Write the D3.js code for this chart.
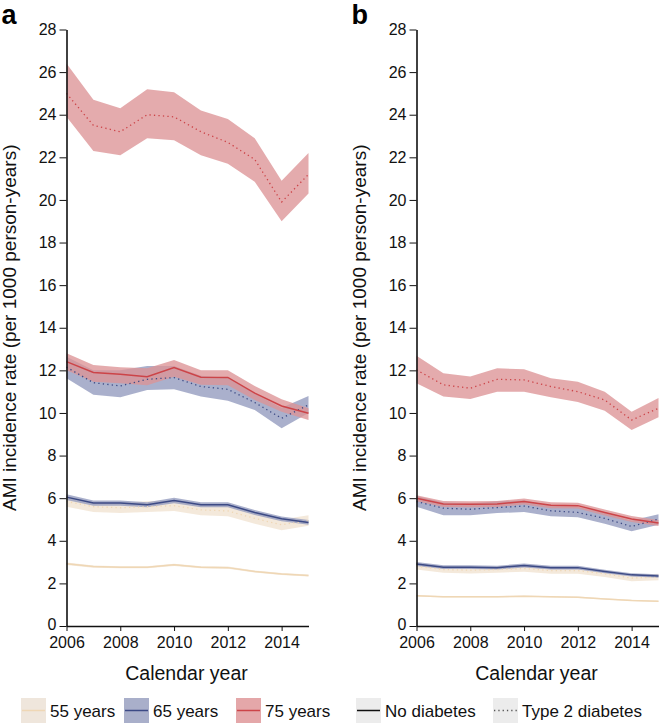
<!DOCTYPE html>
<html><head><meta charset="utf-8">
<script src="https://cdn.jsdelivr.net/npm/d3@7"></script>
<style>
body{margin:0;background:#fff;}
text{font-family:"Liberation Sans",Arial,Helvetica,sans-serif;}
</style></head>
<body><svg id="chart" width="661" height="724"></svg>
<script>
const years = [2006,2007,2008,2009,2010,2011,2012,2013,2014,2015];
const yTicks = [0,2,4,6,8,10,12,14,16,18,20,22,24,26,28];
const xTicks = [2006,2008,2010,2012,2014];
const ageGroups = ["55 years","65 years","75 years"];
const diabetesLabels = ["No diabetes","Type 2 diabetes"];

// Panel a
const a55_nd    = [2.92,2.79,2.76,2.76,2.87,2.76,2.74,2.56,2.44,2.37];
const a55_nd_lo = [2.86,2.74,2.71,2.71,2.82,2.71,2.69,2.51,2.39,2.32];
const a55_nd_hi = [2.98,2.84,2.81,2.81,2.92,2.81,2.79,2.61,2.49,2.42];
const a55_t2    = [5.85,5.60,5.55,5.60,5.65,5.45,5.40,5.05,4.75,4.95];
const a55_t2_lo = [5.60,5.35,5.30,5.35,5.40,5.20,5.15,4.80,4.50,4.70];
const a55_t2_hi = [6.10,5.82,5.78,5.85,5.90,5.70,5.65,5.30,5.00,5.20];
const a65_nd    = [6.05,5.77,5.77,5.69,5.89,5.69,5.69,5.33,5.03,4.86];
const a65_nd_lo = [5.92,5.65,5.65,5.57,5.76,5.57,5.57,5.21,4.92,4.75];
const a65_nd_hi = [6.18,5.89,5.89,5.81,6.02,5.81,5.81,5.45,5.14,4.97];
const a65_t2    = [12.15,11.42,11.27,11.58,11.66,11.24,11.11,10.49,9.75,10.38];
const a65_t2_lo = [11.63,10.85,10.74,11.08,11.11,10.77,10.57,10.14,9.28,10.00];
const a65_t2_hi = [12.64,12.00,12.00,12.20,12.20,11.75,11.65,10.90,10.25,10.80];
const a75_nd    = [12.41,11.90,11.82,11.70,12.13,11.68,11.67,10.93,10.33,9.99];
const a75_nd_lo = [12.00,11.47,11.40,11.30,11.70,11.32,11.30,10.61,10.06,9.67];
const a75_nd_hi = [12.80,12.25,12.15,12.10,12.49,12.00,12.00,11.27,10.64,10.22];
const a75_t2    = [25.00,23.50,23.20,24.00,23.90,23.20,22.70,21.90,19.90,21.20];
const a75_t2_lo = [23.90,22.30,22.10,22.90,22.80,22.10,21.70,20.85,19.00,20.30];
const a75_t2_hi = [26.40,24.70,24.30,25.20,25.05,24.20,23.80,22.90,20.90,22.20];

// Panel b
const b55_nd    = [1.42,1.37,1.37,1.37,1.40,1.37,1.35,1.27,1.20,1.16];
const b55_nd_lo = [1.39,1.34,1.34,1.34,1.37,1.34,1.32,1.24,1.17,1.13];
const b55_nd_hi = [1.45,1.40,1.40,1.40,1.43,1.40,1.38,1.30,1.23,1.19];
const b55_t2    = [2.80,2.65,2.62,2.65,2.70,2.60,2.60,2.45,2.25,2.30];
const b55_t2_lo = [2.65,2.50,2.47,2.50,2.55,2.45,2.45,2.30,2.10,2.15];
const b55_t2_hi = [2.95,2.80,2.77,2.80,2.85,2.75,2.75,2.60,2.40,2.45];
const b65_nd    = [2.91,2.76,2.76,2.74,2.84,2.74,2.74,2.56,2.40,2.35];
const b65_nd_lo = [2.82,2.67,2.67,2.65,2.75,2.65,2.65,2.48,2.32,2.27];
const b65_nd_hi = [3.00,2.85,2.85,2.83,2.93,2.83,2.83,2.64,2.48,2.43];
const b65_t2    = [5.84,5.53,5.48,5.56,5.63,5.41,5.33,5.05,4.67,5.02];
const b65_t2_lo = [5.60,5.20,5.20,5.30,5.35,5.15,5.10,4.80,4.45,4.75];
const b65_t2_hi = [6.10,5.80,5.75,5.85,5.90,5.65,5.60,5.30,4.95,5.25];
const b75_nd    = [6.00,5.73,5.72,5.73,5.84,5.67,5.65,5.33,5.02,4.83];
const b75_nd_lo = [5.86,5.59,5.58,5.59,5.70,5.53,5.51,5.19,4.88,4.69];
const b75_nd_hi = [6.14,5.87,5.86,5.87,5.98,5.81,5.79,5.47,5.16,4.97];
const b75_t2    = [12.02,11.32,11.16,11.58,11.55,11.24,11.00,10.61,9.67,10.22];
const b75_t2_lo = [11.40,10.77,10.66,11.00,11.00,10.74,10.52,10.10,9.20,9.80];
const b75_t2_hi = [12.68,11.86,11.71,12.10,12.05,11.63,11.47,11.00,10.06,10.70];

const colors = {
  line: ["#efd7b5","#3c4a85","#cc4448"],
  band: ["#f1e3d1","#929abe","#dc9396"]
};

const panels = [
  {label:"a", x0:66.5, series:[
    [a55_nd,a55_nd_lo,a55_nd_hi,0,false],[a55_t2,a55_t2_lo,a55_t2_hi,0,true],
    [a65_nd,a65_nd_lo,a65_nd_hi,1,false],[a65_t2,a65_t2_lo,a65_t2_hi,1,true],
    [a75_nd,a75_nd_lo,a75_nd_hi,2,false],[a75_t2,a75_t2_lo,a75_t2_hi,2,true]]},
  {label:"b", x0:416.5, series:[
    [b55_nd,b55_nd_lo,b55_nd_hi,0,false],[b55_t2,b55_t2_lo,b55_t2_hi,0,true],
    [b65_nd,b65_nd_lo,b65_nd_hi,1,false],[b65_t2,b65_t2_lo,b65_t2_hi,1,true],
    [b75_nd,b75_nd_lo,b75_nd_hi,2,false],[b75_t2,b75_t2_lo,b75_t2_hi,2,true]]}
];

const svg = d3.select("#chart");
const yTop = 29.5, yBot = 626;
const width = 242;

panels.forEach(p => {
  const x = d3.scaleLinear().domain([2006,2015]).range([p.x0, p.x0+width]);
  const y = d3.scaleLinear().domain([0,28]).range([yBot, yTop]);
  const g = svg.append("g");

  const area = (lo,hi) => d3.area().x((d,i)=>x(years[i])).y0((d,i)=>y(lo[i])).y1((d,i)=>y(hi[i]))(years);
  const line = (v) => d3.line().x((d,i)=>x(years[i])).y((d,i)=>y(v[i]))(years);

  p.series.forEach(s => {
    g.append("path").attr("d", area(s[1],s[2]))
      .attr("fill", colors.band[s[3]]).attr("fill-opacity", 0.78).attr("stroke","none");
  });
  p.series.forEach(s => {
    g.append("path").attr("d", line(s[0]))
      .attr("fill","none").attr("stroke", colors.line[s[3]])
      .attr("stroke-width", s[4] ? 1.3 : 1.5)
      .attr("stroke-dasharray", s[4] ? "1.3,3.2" : null);
  });

  const ya = d3.axisLeft(y).tickValues(yTicks).tickSize(7).tickPadding(3).tickSizeOuter(0);
  const yg = g.append("g").attr("transform",`translate(${p.x0},0)`).call(ya);
  const xa = d3.axisBottom(x).tickValues(xTicks).tickFormat(d3.format("d")).tickSize(5).tickPadding(6).tickSizeOuter(0);
  const xg = g.append("g").attr("transform",`translate(0,${yBot})`).call(xa);
  [yg,xg].forEach(a => {
    a.select(".domain").attr("stroke","#111").attr("stroke-width",1.6);
    a.selectAll(".tick line").attr("stroke","#111").attr("stroke-width",1);
    a.selectAll(".tick text").attr("font-size",16).attr("fill","#111")
      .attr("font-family","'Liberation Sans',Arial,sans-serif");
  });
  yg.selectAll(".tick text").filter(d => d === 0).attr("dy","0.2em");

  g.append("text").attr("x", p.x0+width/2 - 1).attr("y", 680)
    .attr("text-anchor","middle").attr("font-size",19.5).attr("fill","#111")
    .text("Calendar year");
  g.append("text").attr("transform",`translate(${p.x0-51},${(yTop+yBot)/2})} rotate(-90)`.replace("}",""))
    .attr("text-anchor","middle").attr("font-size",19).attr("fill","#111")
    .text("AMI incidence rate (per 1000 person-years)");
  g.append("text").attr("x", p.x0-65).attr("y", 24)
    .attr("font-size",27).attr("font-weight","bold").attr("fill","#000")
    .text(p.label);
});

const legend = svg.append("g");
const legItems = [
  {x:21, fill:"#efe6dc", stroke:colors.line[0], dash:null, text:ageGroups[0]},
  {x:124, fill:"#a9afca", stroke:colors.line[1], dash:null, text:ageGroups[1]},
  {x:236, fill:"#e4a7a9", stroke:colors.line[2], dash:null, text:ageGroups[2]},
  {x:356, fill:"#ececec", stroke:"#111", dash:null, text:diabetesLabels[0]},
  {x:493, fill:"#ececec", stroke:"#555", dash:"1.3,3", text:diabetesLabels[1]}
];
legItems.forEach(it => {
  legend.append("rect").attr("x",it.x).attr("y",698).attr("width",25).attr("height",25).attr("fill",it.fill);
  legend.append("line").attr("x1",it.x+1).attr("x2",it.x+24).attr("y1",710.5).attr("y2",710.5)
    .attr("stroke",it.stroke).attr("stroke-width",1.5).attr("stroke-dasharray",it.dash);
  legend.append("text").attr("x",it.x+29).attr("y",716.5).attr("font-size",17).attr("fill","#111").text(it.text);
});
</script></body></html>
